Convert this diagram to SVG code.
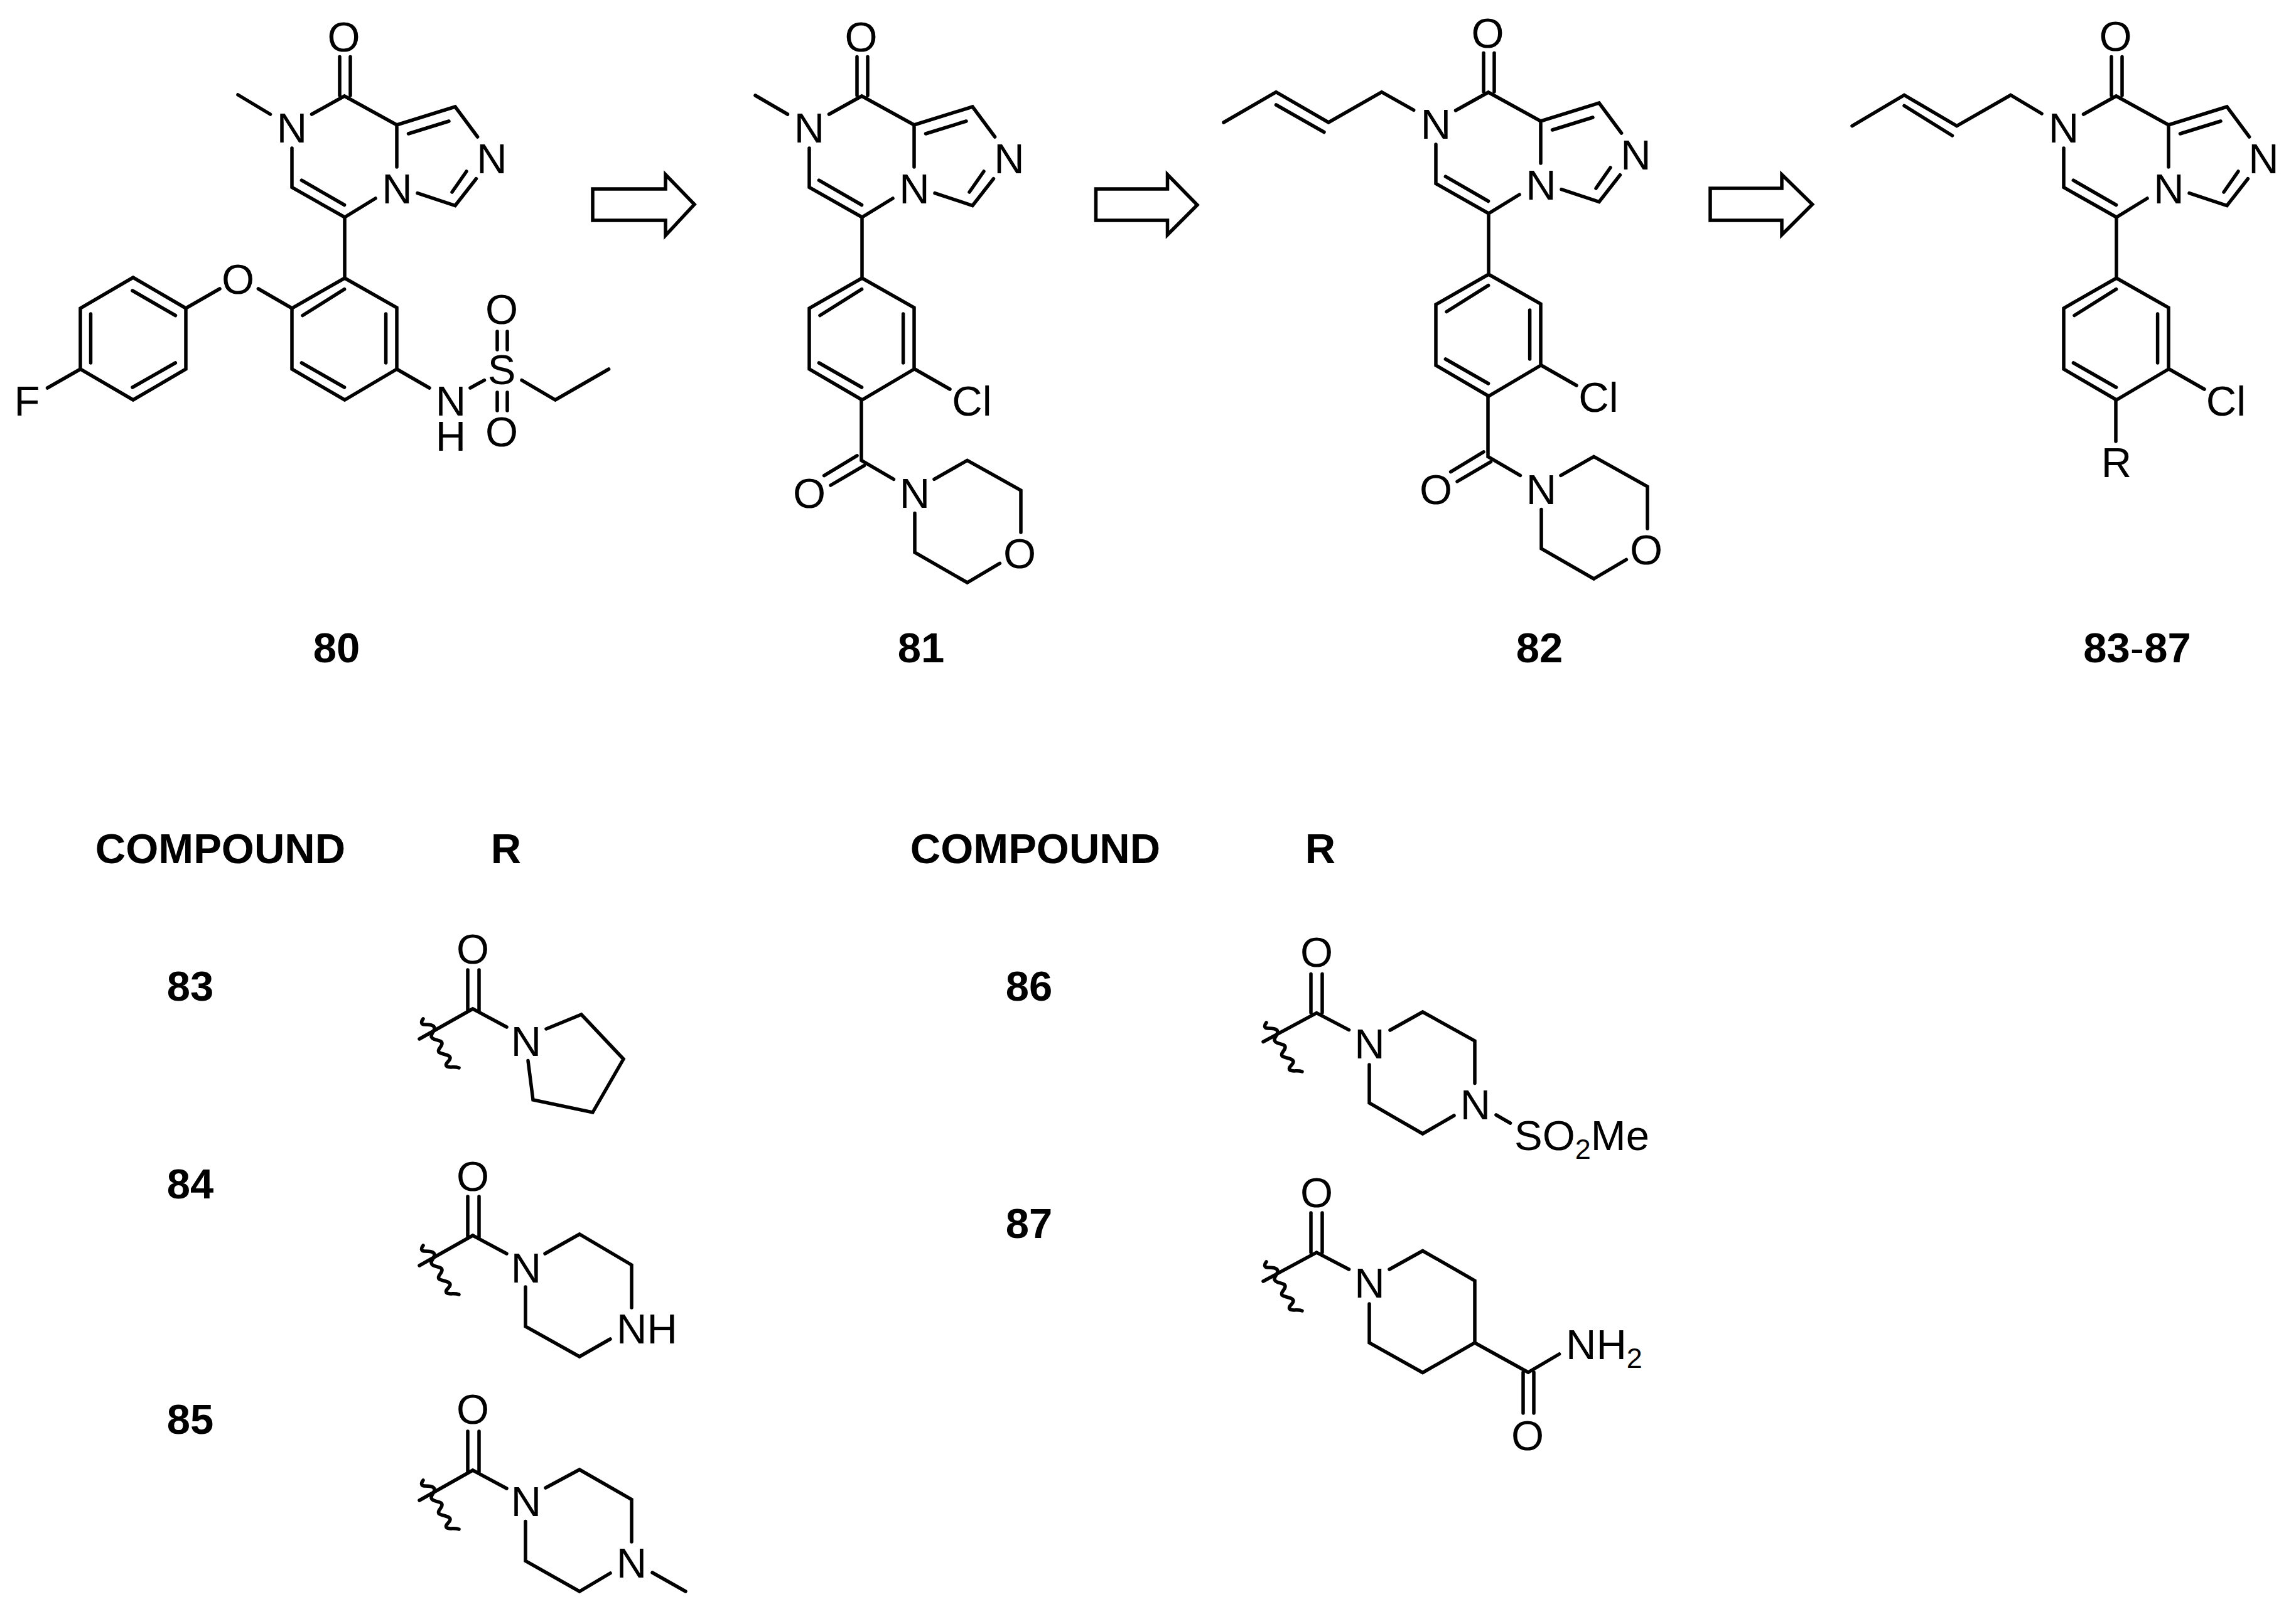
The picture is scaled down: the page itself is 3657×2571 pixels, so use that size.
<svg xmlns="http://www.w3.org/2000/svg" xmlns:xlink="http://www.w3.org/1999/xlink" width="3657" height="2571" viewBox="0 0 3657 2571">
<style>
.b{fill:none;stroke:#000;stroke-width:5.5;stroke-linecap:round;stroke-linejoin:miter}
.w{fill:none;stroke:#000;stroke-width:5.5;stroke-linecap:round;stroke-linejoin:round}
text{font-family:"Liberation Sans",Arial,sans-serif;fill:#000}
.a{font-size:67px;text-anchor:middle}
.s{font-size:67px}
.l{font-size:67px;font-weight:700;text-anchor:middle}
.u{font-size:45px}
</style>
<defs>
<path id="core" class="b" d="M541 90.5V152M558 90.5V152M496.5 182L548.6 153L632 199L725 170L760.6 218M758.4 284.7L725 327.5L665 307.6M632 199V266M598 316L549 346L465 298.5V236M549 346V443M650.5 213L715 193M743 273L720 306M480.4 287.2L548.6 326.5M549 443L632 490V588L549 637L465 588V491ZM548.6 460.7L482 502.5M614.6 500V578M480.4 578L548.6 617"/>
<path id="amide" class="b" d="M1457 588L1513 620M1372 636.5V733.4L1423.4 763.4M1312.6 757.6L1365 725.8M1323 773L1376.4 741.7M1488 763.4L1540.6 733.4L1626 781V848M1592.4 897.3L1540.6 928L1457 880V817.6"/>
<path id="wave" class="w" d="M674 1623C670 1628 671 1632 676 1632C682 1632 692 1632 692 1638C692 1644 684 1648 688 1653C692 1658 704 1656 704 1662C704 1668 696 1671 699 1676C703 1680 716 1679 717 1685C717 1691 708 1693 711 1698C715 1702 723 1698 731 1701"/>
</defs>
<g id="connectors">
<use href="#core"/>
<use href="#core" transform="translate(824 0)"/>
<use href="#core" transform="translate(1822 -6)"/>
<use href="#core" transform="translate(2822 0)"/>
<use href="#amide"/>
<use href="#amide" transform="translate(998 -6)"/>
<path class="b" d="M379 151L430.5 182M411.4 460L465 491M350 460L296 491M296 491L212 442L128 491V588L212 637L296 588ZM211 463L279.4 502.5M144.5 500V578M211 617L279.4 578M128 588L75.5 618M632 588L684 618M749 618L771.5 605.6M831 605.6L884.5 637L969.6 588M792 528V557M808 528V557M792 625V654M808 625V654"/>
<path class="b" d="M1203 152L1254.5 182"/>
<path class="b" d="M1949 195L2032.5 146.7L2116 195L2200.7 146.7L2251.7 175.4M2032.5 167L2109 210.5"/>
<path class="b" d="M2950 200.6L3033 151.5L3116.7 200.6L3202.5 151.5L3252 181M3033 168.4L3109.5 216M3455 588L3511 620M3370 637V703"/>
<path class="b" d="M944 301H1060V278L1106 325.5L1060 375V351H944Z"/>
<path class="b" d="M1745.5 301H1859.5V278L1907 326.5L1859.5 374V351H1745.5Z"/>
<path class="b" d="M2724 300H2838V278L2886.6 325.5L2838 374V351H2724Z"/>
<path class="b" d="M745 1545V1611M763 1545V1611M668 1655L753 1607L807 1636M870 1639L926 1616L993 1687L944 1772L849 1752L841 1689.5"/>
<use href="#wave"/>
<path class="b" d="M745 1906V1972M763 1906V1972M668 2016L753 1968L807 1997M868 1997L923 1966L1006 2015V2083M972 2133L923 2161L837 2113V2050"/>
<use href="#wave" transform="translate(0 361)"/>
<path class="b" d="M745 2280V2346M763 2280V2346M668 2390L753 2342L807 2371M869 2370L923 2341L1006 2388.5V2456M972 2506L923 2535L837 2486.5V2423.5M1039 2505L1092 2535"/>
<use href="#wave" transform="translate(0 735)"/>
<path class="b" d="M2088 1551.6V1613M2106 1551.6V1613M2012 1659.5L2097 1613.6L2148.6 1640.6M2214 1641L2266 1612L2349 1658V1725.5M2316 1777L2266 1806L2181 1757V1696M2383 1776L2405.5 1789"/>
<use href="#wave" transform="translate(1343 6)"/>
<path class="b" d="M2088 1932V1995M2106 1932V1995M2012 2041L2097 1995L2148.6 2022M2213 2022L2266 1992.5L2349 2040V2139L2266 2186.5L2181 2139V2077M2349 2139L2434 2186L2483.5 2157M2426 2186V2251M2443 2186V2251"/>
<use href="#wave" transform="translate(1343 387)"/>
</g>
<g id="compound-80">
<text class="a" x="547.5" y="82">O</text><text class="a" x="465" y="227">N</text><text class="a" x="632.5" y="324">N</text><text class="a" x="783.5" y="275.5">N</text>
<text class="a" x="379" y="468">O</text><text class="a" x="43" y="662">F</text><text class="a" x="718" y="662">N<tspan x="718" dy="56">H</tspan></text>
<text class="a" x="799" y="612">S</text><text class="a" x="799" y="516">O</text><text class="a" x="799" y="711">O</text>
<text class="l" x="536" y="1055">80</text>
</g>
<g id="compound-81">
<text class="a" x="1371.5" y="82">O</text><text class="a" x="1289" y="227">N</text><text class="a" x="1456.5" y="324">N</text><text class="a" x="1607.5" y="275.5">N</text>
<text class="a" x="1548" y="662">Cl</text><text class="a" x="1289" y="809">O</text><text class="a" x="1457" y="809">N</text><text class="a" x="1624" y="905">O</text>
<text class="l" x="1467" y="1055">81</text>
</g>
<g id="compound-82">
<text class="a" x="2369.5" y="76">O</text><text class="a" x="2287" y="221">N</text><text class="a" x="2454.5" y="318">N</text><text class="a" x="2605.5" y="269.5">N</text>
<text class="a" x="2546" y="656">Cl</text><text class="a" x="2287" y="803">O</text><text class="a" x="2455" y="803">N</text><text class="a" x="2622" y="899">O</text>
<text class="l" x="2452" y="1055">82</text>
</g>
<g id="compound-83-87">
<text class="a" x="3369.5" y="81">O</text><text class="a" x="3287" y="227">N</text><text class="a" x="3454.5" y="324">N</text><text class="a" x="3605.5" y="275.5">N</text>
<text class="a" x="3545.5" y="662">Cl</text><text class="a" x="3371" y="760">R</text>
<text class="l" x="3404" y="1055">83<tspan font-weight="400">-</tspan>87</text>
</g>
<g id="table-headers">
<text class="l" x="351" y="1375">COMPOUND</text><text class="l" x="806" y="1375">R</text>
<text class="l" x="1649" y="1375">COMPOUND</text><text class="l" x="2103" y="1375">R</text>
</g>
<g id="row-83"><text class="l" x="303" y="1594">83</text><text class="a" x="753" y="1535">O</text><text class="a" x="838" y="1682">N</text></g>
<g id="row-84"><text class="l" x="303" y="1909">84</text><text class="a" x="753" y="1897">O</text><text class="a" x="838" y="2043">N</text><text class="s" x="982" y="2140">NH</text></g>
<g id="row-85"><text class="l" x="303" y="2284">85</text><text class="a" x="753" y="2268">O</text><text class="a" x="838" y="2415">N</text><text class="a" x="1006" y="2513">N</text></g>
<g id="row-86"><text class="l" x="1639" y="1594">86</text><text class="a" x="2097" y="1540">O</text><text class="a" x="2181.5" y="1686">N</text><text class="a" x="2350" y="1783">N</text><text class="s" x="2412" y="1832">SO<tspan class="u" dy="14">2</tspan><tspan dy="-14">Me</tspan></text></g>
<g id="row-87"><text class="l" x="1639" y="1972">87</text><text class="a" x="2097" y="1923">O</text><text class="a" x="2181.5" y="2067">N</text><text class="s" x="2494" y="2165">NH<tspan class="u" dy="14">2</tspan></text><text class="a" x="2433" y="2310">O</text></g>
</svg>
